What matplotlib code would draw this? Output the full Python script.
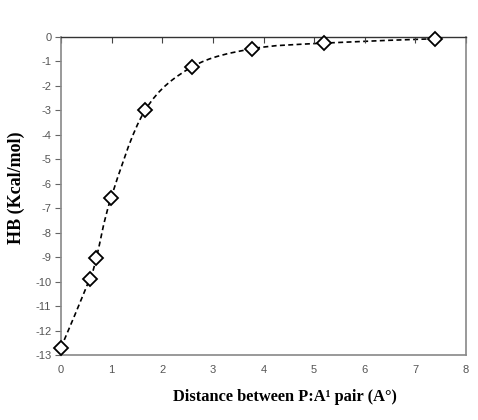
import numpy as np
import matplotlib.pyplot as plt
from matplotlib.path import Path
from matplotlib.patches import PathPatch

plt.rcParams['axes.unicode_minus'] = False

# distance (A) vs HB energy (Kcal/mol)
distance = [0.0, 0.57, 0.70, 0.99, 1.66, 2.59, 3.78, 5.19, 7.39]
hb_energy = [-12.70, -9.88, -9.02, -6.57, -3.00, -1.22, -0.48, -0.25, -0.07]

x_ticks = list(range(0, 9))
y_ticks = list(range(-13, 1))


# smooth curve through the points (Excel-like, catmull-rom as bezier segments)
def smooth_path(xs, ys):
    pts = np.column_stack([xs, ys])
    verts = [pts[0]]
    codes = [Path.MOVETO]
    n = len(pts)
    for i in range(n - 1):
        p0 = pts[max(i - 1, 0)]
        p1 = pts[i]
        p2 = pts[i + 1]
        p3 = pts[min(i + 2, n - 1)]
        c1 = p1 + (p2 - p0) / 6.0
        c2 = p2 - (p3 - p1) / 6.0
        verts += [c1, c2, p2]
        codes += [Path.CURVE4] * 3
    return Path(verts, codes)


fig = plt.figure(figsize=(4.78, 4.2), dpi=100)
ax = fig.add_axes([0.1276, 0.1548, 0.8474, 0.7571])

patch = PathPatch(smooth_path(distance, hb_energy), facecolor='none',
                  edgecolor='black', linewidth=1.2, linestyle=(0, (3, 2)))
ax.add_patch(patch)
ax.plot(distance, hb_energy, linestyle='none', marker='D', markersize=7,
        markerfacecolor='white', markeredgecolor='black', markeredgewidth=1.3,
        zorder=3, clip_on=False)

ax.set_xlim(0, 8)
ax.set_ylim(-13, 0)
ax.set_xticks(x_ticks)
ax.set_yticks(y_ticks)

# x ticks sit on the top line (axis crosses at 0), labels stay at the bottom
ax.tick_params(axis='x', which='both', bottom=False, top=True, direction='in',
               length=4, color='#444444', labelsize=8, labelcolor='#555555', pad=7)
ax.tick_params(axis='y', direction='out', length=4, color='#666666',
               labelsize=8, labelcolor='#555555', pad=3)

for side in ['left', 'bottom', 'right']:
    ax.spines[side].set_color('#888888')
    ax.spines[side].set_linewidth(1.2)
ax.spines['top'].set_color('#333333')
ax.spines['top'].set_linewidth(1.0)

for lab in ax.get_xticklabels() + ax.get_yticklabels():
    lab.set_family('Liberation Sans')

ax.set_xlabel('Distance between P:A\u00b9 pair (A\u00b0)', family='Liberation Serif',
              fontweight='bold', fontsize=11.8)
ax.set_ylabel('HB (Kcal/mol)', family='Liberation Serif', fontweight='bold',
              fontsize=13)
ax.xaxis.set_label_coords(0.553, -0.108)
ax.yaxis.set_label_coords(-0.09, 0.525)

fig.savefig('out.png', dpi=100)
